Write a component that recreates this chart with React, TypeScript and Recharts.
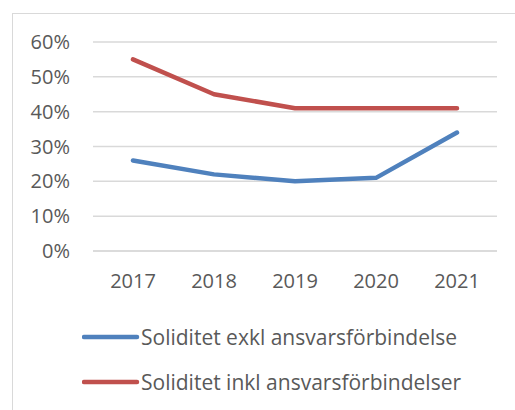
import React from "react";
import { LineChart, Line, XAxis, YAxis, CartesianGrid, Legend } from "recharts";

const years = ["2017", "2018", "2019", "2020", "2021"];
const exkl = [26, 22, 20, 21, 34];
const inkl = [55, 45, 41, 41, 41];
const yTicks = [0, 10, 20, 30, 40, 50, 60];
const seriesNames = ["Soliditet exkl ansvarsförbindelse", "Soliditet inkl ansvarsförbindelser"];
const colors = ["#4f81bd", "#c0504d"];

const data = years.map((y, i) => ({ year: y, exkl: exkl[i], inkl: inkl[i] }));

const FONT = "'Open Sans', sans-serif";
const TEXT = "#595959";

const LegendContent = () => (
  <div style={{ fontFamily: FONT, fontSize: 21, color: TEXT }}>
    {seriesNames.map((n, i) => (
      <div key={n} style={{ display: "flex", alignItems: "center", height: 45, whiteSpace: "nowrap" }}>
        <svg width={58} height={10} style={{ display: "block" }}>
          <line x1={2} y1={5} x2={55} y2={5} stroke={colors[i]} strokeWidth={4.5} strokeLinecap="round" />
        </svg>
        <span style={{ marginLeft: 1 }}>{n}</span>
      </div>
    ))}
  </div>
);

export default function App() {
  return (
    <div style={{ position: "absolute", left: 0, top: 0, width: 515, height: 410, background: "#fff", overflow: "hidden" }}>
      <div style={{ position: "absolute", left: 12, top: 13, width: 520, height: 420, border: "1px solid #d9d9d9", boxSizing: "border-box" }} />
      <LineChart width={515} height={410} data={data} margin={{ top: 42, right: 18, left: 0, bottom: 119 }}>
        <CartesianGrid vertical={false} stroke="#d9d9d9" strokeWidth={1.5} />
        <XAxis
          dataKey="year"
          padding={{ left: 40, right: 40 }}
          axisLine={{ stroke: "#d9d9d9", strokeWidth: 1.5 }}
          tickLine={false}
          tickSize={0}
          tickMargin={23}
          height={40}
          tick={{ fill: TEXT, fontSize: 20, fontFamily: FONT }}
        />
        <YAxis
          domain={[0, 60]}
          ticks={yTicks}
          tickFormatter={(v) => `${v}%`}
          axisLine={false}
          tickLine={false}
          tickSize={0}
          tickMargin={23}
          width={93}
          tick={{ fill: TEXT, fontSize: 20, fontFamily: FONT }}
        />
        <Legend
          layout="vertical"
          align="center"
          verticalAlign="middle"
          content={<LegendContent />}
          wrapperStyle={{ top: 314, left: 82, width: 430 }}
        />
        <Line type="linear" dataKey="exkl" name={seriesNames[0]} stroke={colors[0]} strokeWidth={4.5} strokeLinecap="round" strokeLinejoin="round" dot={false} isAnimationActive={false} />
        <Line type="linear" dataKey="inkl" name={seriesNames[1]} stroke={colors[1]} strokeWidth={4.5} strokeLinecap="round" strokeLinejoin="round" dot={false} isAnimationActive={false} />
      </LineChart>
    </div>
  );
}
